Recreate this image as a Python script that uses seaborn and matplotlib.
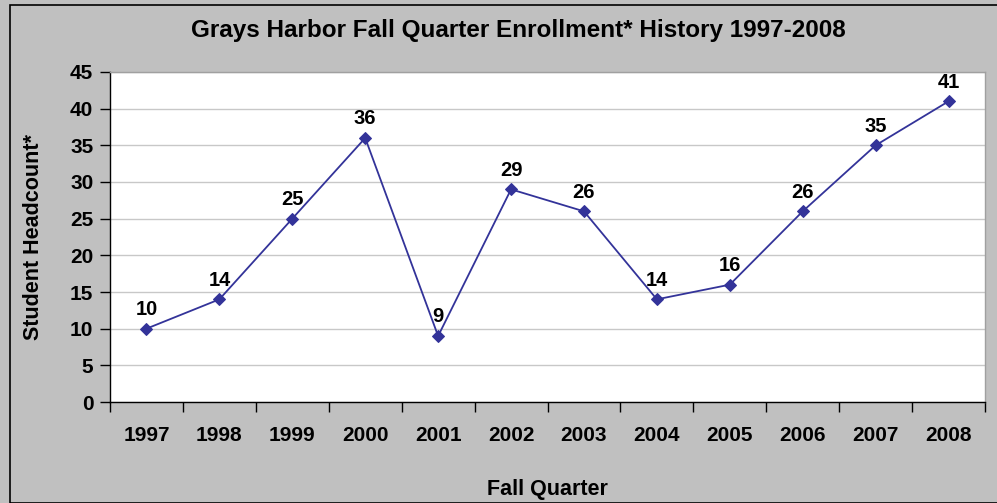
import matplotlib
matplotlib.use("Agg")
import matplotlib.pyplot as plt
import seaborn as sns
import pandas as pd
from matplotlib.patches import Rectangle

years = ["1997", "1998", "1999", "2000", "2001", "2002", "2003", "2004", "2005", "2006", "2007", "2008"]
headcount = [10, 14, 25, 36, 9, 29, 26, 14, 16, 26, 35, 41]
yticks = [0, 5, 10, 15, 20, 25, 30, 35, 40, 45]

df = pd.DataFrame({"year": years, "count": headcount})
df["pos"] = range(len(years))

sns.set_style("white")
plt.rcParams['font.family'] = ['Liberation Sans', 'DejaVu Sans']
plt.rcParams['text.color'] = 'black'
plt.rcParams['axes.labelcolor'] = 'black'
plt.rcParams['xtick.color'] = 'black'
plt.rcParams['ytick.color'] = 'black'

fig = plt.figure(figsize=(9.97, 5.03), dpi=100)
fig.patch.set_facecolor("#C0C0C0")
W, H = 997, 503
fig.patches.append(Rectangle((10 / W, 0), 2.0, 1 - 5 / H, transform=fig.transFigure,
                             facecolor="none", edgecolor="black", linewidth=1.2, zorder=0))

ax = fig.add_axes([110 / W, 1 - 402 / H, (985 - 110) / W, (402 - 72) / H])
ax.set_facecolor("white")

sns.lineplot(data=df, x="pos", y="count", ax=ax, color="#333399", linewidth=1.3,
             marker="D", markersize=6.5, markeredgecolor="#333399", markerfacecolor="#333399")

for p, v in zip(df["pos"], df["count"]):
    ax.annotate(str(v), (p, v), xytext=(0, 7), textcoords="offset points",
                ha="center", va="bottom", fontsize=14.5, fontweight="bold", color="black")

ax.set_xlim(-0.5, len(years) - 0.5)
ax.set_ylim(0, 45)
ax.set_yticks(yticks)
ax.set_yticklabels([str(t) for t in yticks], fontsize=15, fontweight="bold")
ax.yaxis.grid(True, color="#C8C8C8", linewidth=1)
ax.set_axisbelow(True)

ax.set_xticks(range(len(years)))
ax.set_xticklabels(years, fontsize=15, fontweight="bold")
ax.set_xticks([i - 0.5 for i in range(len(years) + 1)], minor=True)
ax.tick_params(axis="x", which="major", bottom=True, length=0, pad=17)
ax.tick_params(axis="x", which="minor", bottom=True, length=7, width=1, color="black", direction="out")
ax.tick_params(axis="y", which="major", left=True, length=7, width=1, color="black", direction="out", pad=5)

for s in ["top", "right"]:
    ax.spines[s].set_color("#A0A0A0")
    ax.spines[s].set_linewidth(1)
for s in ["left", "bottom"]:
    ax.spines[s].set_color("black")
    ax.spines[s].set_linewidth(1)

ax.set_xlabel("Fall Quarter", fontsize=15.5, fontweight="bold", labelpad=25)
ax.set_ylabel("Student Headcount*", fontsize=15.5, fontweight="bold", labelpad=19)

fig.text(518 / W, 1 - 30 / H, "Grays Harbor Fall Quarter Enrollment* History 1997-2008",
         ha="center", va="center", fontsize=17.5, fontweight="bold")

fig.savefig("out.png", dpi=100, facecolor=fig.get_facecolor())
